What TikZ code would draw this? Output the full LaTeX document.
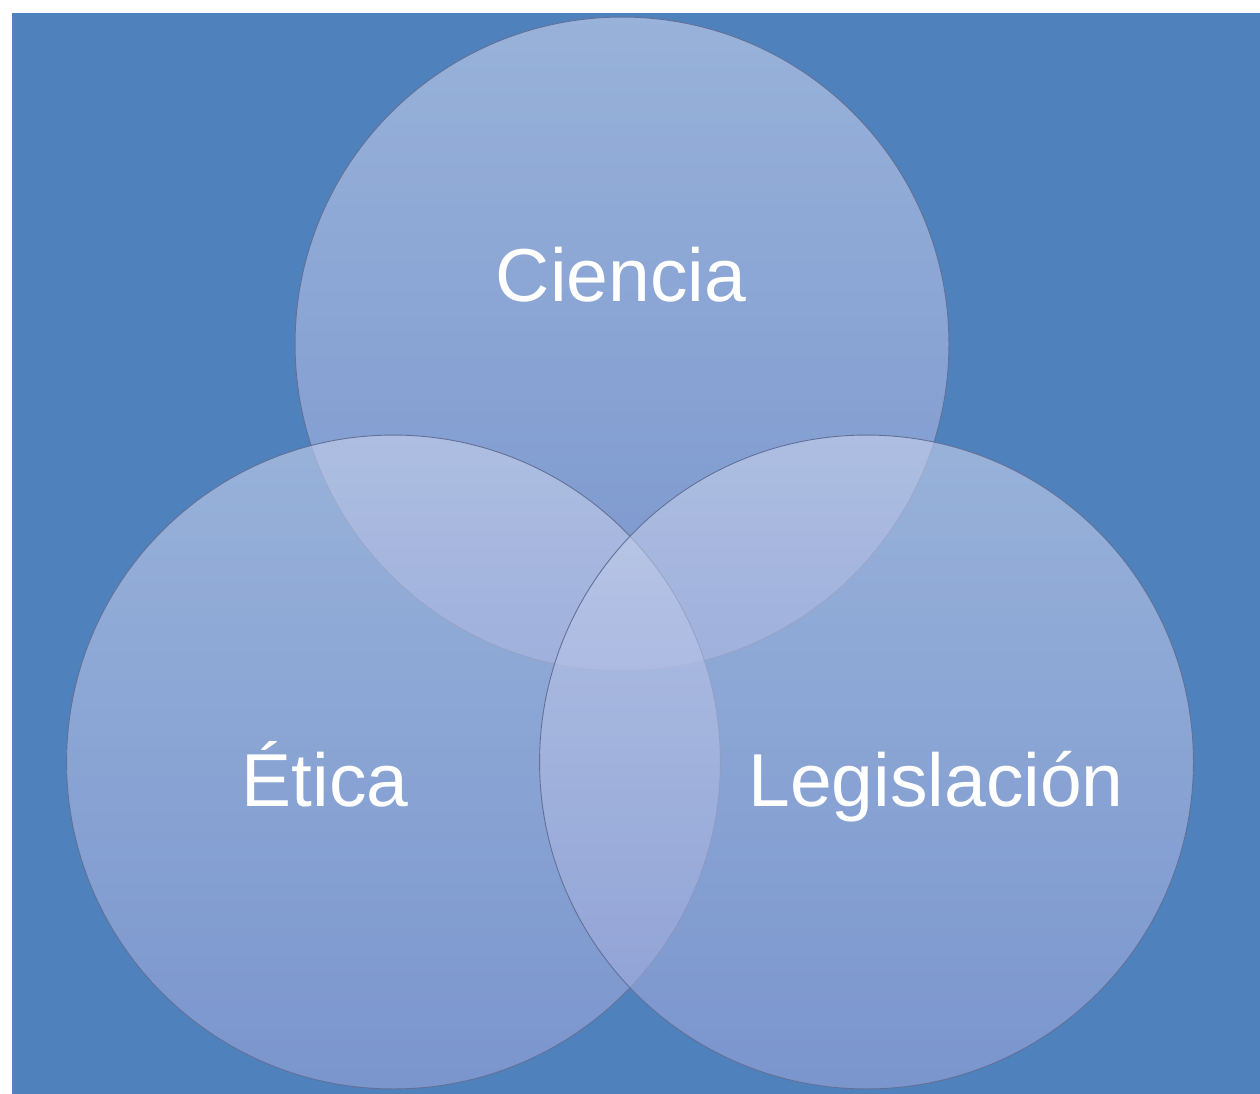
\documentclass[tikz,border=0pt]{standalone}
\usepackage{fontspec}
\setmainfont{Liberation Sans}
\definecolor{fondo}{RGB}{79,129,189}
\definecolor{vtop}{RGB}{201,211,237}
\definecolor{vbot}{RGB}{152,164,217}
\definecolor{borde}{RGB}{98,112,150}
\begin{document}
\begin{tikzpicture}[x=0.02cm, y=-0.02cm,
    venn/.style={circle, draw=borde, line width=0.5pt, top color=vtop, bottom color=vbot, fill opacity=0.6, minimum size=13.08cm, inner sep=0pt},
    rotulo/.style={anchor=base, text=white, font=\fontsize{42.7}{50}\selectfont, inner sep=0pt}]
    \useasboundingbox (0,0) rectangle (1260,1094);
    \fill[fondo] (12,13) rectangle (1260,1094);

    \node[venn] (C) at (622,344) {};
    \node[venn] (E) at (393.5,762) {};
    \node[venn] (L) at (866.5,762) {};

    \node[rotulo] (tC) at (621,302) {Ciencia};
    \node[rotulo] (tE) at (325,806) {Ética};
    \node[rotulo] (tL) at (936,806) {Legislación};
\end{tikzpicture}
\end{document}
